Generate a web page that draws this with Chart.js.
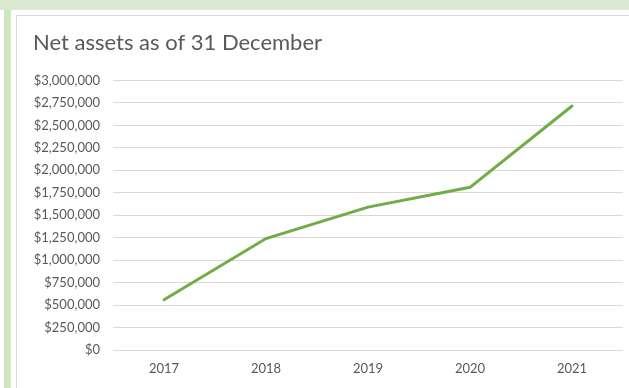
<!DOCTYPE html>
<html>
<head>
<meta charset="utf-8">
<script src="https://cdn.jsdelivr.net/npm/chart.js@4"></script>
<style>
  body { margin: 0; background: #fff; width: 629px; height: 388px; overflow: hidden; position: relative; }
  .band { position: absolute; left: 0; top: 0; width: 629px; height: 10px; background: #dce9d2; }
  .stripe { position: absolute; left: 4px; top: 10px; width: 7px; height: 378px; background: #d0e5c2; }
  .frame { position: absolute; left: 16px; top: 15px; width: 620px; height: 380px;
           border-left: 1px solid #d9d9d9; border-top: 1px solid #d9d9d9; }
  canvas { position: absolute; left: 0; top: 0; }
</style>
</head>
<body>
<div class="band"></div>
<div class="stripe"></div>
<div class="frame"></div>
<canvas id="assetsChart" width="629" height="388"></canvas>
<script>
// values
const years = ['2017', '2018', '2019', '2020', '2021'];
const netAssets = [560000, 1240000, 1590000, 1810000, 2715000];
const yMin = 0;
const yMax = 3000000;
const yStep = 250000;

const textColor = '#595959';

document.addEventListener('DOMContentLoaded', () => {
  const ctx = document.getElementById('assetsChart').getContext('2d');

  new Chart(ctx, {
    type: 'line',
    data: {
      labels: years,
      datasets: [{
        label: 'Net assets',
        data: netAssets,
        borderColor: '#70ad47',
        borderWidth: 3,
        borderCapStyle: 'round',
        pointRadius: 0,
        tension: 0,
        fill: false
      }]
    },
    options: {
      responsive: false,
      animation: false,
      layout: { padding: { left: 33, right: 6, top: 30, bottom: 11 } },
      plugins: {
        legend: { display: false },
        tooltip: { enabled: false },
        title: {
          display: true,
          text: 'Net assets as of 31 December',
          align: 'start',
          color: textColor,
          font: { family: 'Lato', size: 22, weight: 'normal' },
          padding: { top: 0, bottom: 24 }
        }
      },
      scales: {
        x: {
          offset: true,
          afterFit: scale => { scale.height = 27; },
          grid: { display: false, drawTicks: false },
          border: { display: false },
          ticks: { color: textColor, padding: 11, maxRotation: 0, font: { family: 'Lato', size: 13 } }
        },
        y: {
          min: yMin,
          max: yMax,
          afterFit: scale => { scale.width = 80; },
          grid: { color: '#d9d9d9', drawTicks: false },
          border: { display: false },
          ticks: {
            stepSize: yStep,
            padding: 13,
            color: textColor,
            font: { family: 'Lato', size: 13 },
            callback: v => '$' + v.toLocaleString('en-US')
          }
        }
      }
    }
  });
});
</script>
</body>
</html>
